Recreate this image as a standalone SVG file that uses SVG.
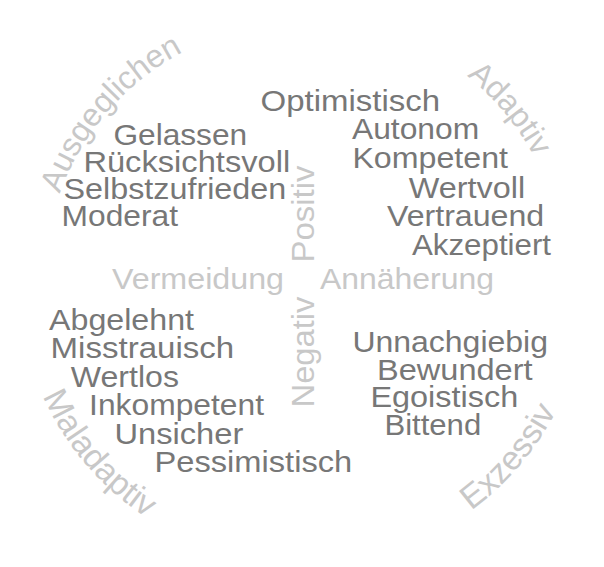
<svg xmlns="http://www.w3.org/2000/svg" width="604" height="567" viewBox="0 0 604 567">
<style>
text{font-family:"Liberation Sans",Arial,sans-serif;font-size:30px}
.w{fill:#777777}
.l{fill:#c8c8c8}
.a{font-size:32px}
.b{font-size:33.5px}
</style>
<defs>
<path id="pAus" d="M58.1,364 A259,259 0 0 1 351.2,26.7"/>
<path id="pAda" d="M246.6,22.6 A266,266 0 0 1 546.5,383.5"/>
<path id="pMal" d="M34.3,185.2 A284,284 0 0 0 353.7,559.3"/>
<path id="pExz" d="M249.9,561.2 A286,286 0 0 0 571.6,184.5"/>
</defs>
<rect width="604" height="567" fill="#ffffff"/>
<g id="axes">
<text id="vermeidung" class="l" x="112" y="289" textLength="172" lengthAdjust="spacingAndGlyphs">Vermeidung</text>
<text id="annaeherung" class="l" x="320" y="289" textLength="174" lengthAdjust="spacingAndGlyphs">Annäherung</text>
<text id="positiv" class="l" transform="translate(313.5,262.5) rotate(-90)" x="0" y="0" style="font-size:31.5px" textLength="97" lengthAdjust="spacingAndGlyphs">Positiv</text>
<text id="negativ" class="l" transform="translate(313.5,407.5) rotate(-90)" x="0" y="0" style="font-size:31.5px" textLength="111" lengthAdjust="spacingAndGlyphs">Negativ</text>
</g>
<g id="arcs">
<text id="ausgeglichen" class="l a"><textPath href="#pAus" startOffset="50%" text-anchor="middle">Ausgeglichen</textPath></text>
<text id="adaptiv" class="l a"><textPath href="#pAda" startOffset="50%" text-anchor="middle">Adaptiv</textPath></text>
<text id="maladaptiv" class="l b"><textPath href="#pMal" startOffset="50%" text-anchor="middle">Maladaptiv</textPath></text>
<text id="exzessiv" class="l b"><textPath href="#pExz" startOffset="50%" text-anchor="middle">Exzessiv</textPath></text>
</g>
<g id="ausgeglichen-words">
<text class="w" x="113.4" y="144.5" textLength="133.8" lengthAdjust="spacingAndGlyphs">Gelassen</text>
<text class="w" x="83.4" y="171.5" textLength="206.8" lengthAdjust="spacingAndGlyphs">Rücksichtsvoll</text>
<text class="w" x="63.5" y="198.5" textLength="222.7" lengthAdjust="spacingAndGlyphs">Selbstzufrieden</text>
<text class="w" x="61.6" y="226" textLength="116.4" lengthAdjust="spacingAndGlyphs">Moderat</text>
</g>
<g id="adaptiv-words">
<text class="w" x="260.5" y="111" textLength="179.7" lengthAdjust="spacingAndGlyphs">Optimistisch</text>
<text class="w" x="352" y="138.5" textLength="127.2" lengthAdjust="spacingAndGlyphs">Autonom</text>
<text class="w" x="352.4" y="167.5" textLength="155.6" lengthAdjust="spacingAndGlyphs">Kompetent</text>
<text class="w" x="408.8" y="197.5" textLength="116.4" lengthAdjust="spacingAndGlyphs">Wertvoll</text>
<text class="w" x="387" y="226" textLength="157.2" lengthAdjust="spacingAndGlyphs">Vertrauend</text>
<text class="w" x="412" y="255" textLength="139" lengthAdjust="spacingAndGlyphs">Akzeptiert</text>
</g>
<g id="maladaptiv-words">
<text class="w" x="49" y="330" textLength="145" lengthAdjust="spacingAndGlyphs">Abgelehnt</text>
<text class="w" x="50.6" y="358" textLength="183.6" lengthAdjust="spacingAndGlyphs">Misstrauisch</text>
<text class="w" x="70.8" y="387" textLength="108.2" lengthAdjust="spacingAndGlyphs">Wertlos</text>
<text class="w" x="89.1" y="415" textLength="174.9" lengthAdjust="spacingAndGlyphs">Inkompetent</text>
<text class="w" x="114.4" y="443.5" textLength="128.9" lengthAdjust="spacingAndGlyphs">Unsicher</text>
<text class="w" x="154.5" y="472" textLength="197.7" lengthAdjust="spacingAndGlyphs">Pessimistisch</text>
</g>
<g id="exzessiv-words">
<text class="w" x="352.4" y="352" textLength="195.6" lengthAdjust="spacingAndGlyphs">Unnachgiebig</text>
<text class="w" x="377" y="380" textLength="155.6" lengthAdjust="spacingAndGlyphs">Bewundert</text>
<text class="w" x="370.4" y="407" textLength="147.8" lengthAdjust="spacingAndGlyphs">Egoistisch</text>
<text class="w" x="384.4" y="435" textLength="96.8" lengthAdjust="spacingAndGlyphs">Bittend</text>
</g>
<g id="connectors"/>
</svg>
